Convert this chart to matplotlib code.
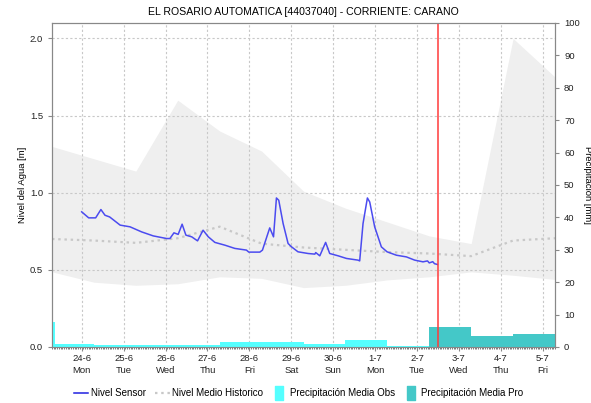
import matplotlib
matplotlib.use("Agg")
import matplotlib.pyplot as plt
import matplotlib.dates as mdates
import pandas as pd
from matplotlib.lines import Line2D

plt.rcParams['font.family'] = ['Liberation Sans', 'DejaVu Sans']

# sensor level [m]
sensor_time = ["2019-06-24 00:00", "2019-06-24 04:00", "2019-06-24 08:00", "2019-06-24 11:00",
               "2019-06-24 13:20", "2019-06-24 16:00", "2019-06-24 22:00", "2019-06-25 03:40",
               "2019-06-25 10:20", "2019-06-25 17:00", "2019-06-26 00:40", "2019-06-26 02:30",
               "2019-06-26 04:50", "2019-06-26 07:15", "2019-06-26 09:30", "2019-06-26 11:40",
               "2019-06-26 15:00", "2019-06-26 18:20", "2019-06-26 21:30", "2019-06-27 00:30",
               "2019-06-27 04:15", "2019-06-27 10:00", "2019-06-27 15:40", "2019-06-27 22:20",
               "2019-06-27 23:40", "2019-06-28 06:00", "2019-06-28 07:30", "2019-06-28 11:40",
               "2019-06-28 13:50", "2019-06-28 15:30", "2019-06-28 16:50", "2019-06-28 19:20",
               "2019-06-28 22:10", "2019-06-29 00:10", "2019-06-29 03:50", "2019-06-29 09:40",
               "2019-06-29 13:30", "2019-06-29 14:00", "2019-06-29 16:20", "2019-06-29 19:40",
               "2019-06-29 22:00", "2019-06-30 02:50", "2019-06-30 07:35", "2019-06-30 14:15",
               "2019-06-30 15:10", "2019-06-30 17:05", "2019-06-30 19:35", "2019-06-30 20:55",
               "2019-06-30 23:45", "2019-07-01 03:35", "2019-07-01 06:50", "2019-07-01 12:10",
               "2019-07-01 17:55", "2019-07-01 22:40", "2019-07-02 03:25", "2019-07-02 06:00",
               "2019-07-02 07:00", "2019-07-02 09:00", "2019-07-02 10:00", "2019-07-02 11:40"]
sensor_level = [0.876, 0.837, 0.837, 0.891,
                0.854, 0.843, 0.790, 0.779,
                0.746, 0.720, 0.703, 0.703,
                0.740, 0.730, 0.796, 0.725,
                0.714, 0.688, 0.757, 0.714,
                0.678, 0.660, 0.639, 0.628,
                0.615, 0.615, 0.628, 0.772,
                0.714, 0.966, 0.951, 0.800,
                0.671, 0.649, 0.617, 0.606,
                0.602, 0.612, 0.591, 0.678,
                0.606, 0.591, 0.574, 0.563,
                0.558, 0.800, 0.966, 0.940,
                0.779, 0.649, 0.617, 0.595,
                0.584, 0.563, 0.552, 0.558,
                0.545, 0.553, 0.540, 0.535]

# daily historic statistics (07:00)
hist_time = ["2019-06-23 07:00", "2019-06-24 07:00", "2019-06-25 07:00", "2019-06-26 07:00",
             "2019-06-27 07:00", "2019-06-28 07:00", "2019-06-29 07:00", "2019-06-30 07:00",
             "2019-07-01 07:00", "2019-07-02 07:00", "2019-07-03 07:00", "2019-07-04 07:00",
             "2019-07-05 07:00"]
hist_max = [1.30, 1.22, 1.14, 1.60, 1.40, 1.27, 1.01, 0.90, 0.81, 0.72, 0.67, 2.00, 1.75]
hist_min = [0.487, 0.42, 0.40, 0.41, 0.455, 0.445, 0.385, 0.40, 0.435, 0.455, 0.487, 0.465, 0.438]
hist_mean = [0.70, 0.69, 0.675, 0.705, 0.78, 0.67, 0.645, 0.63, 0.615, 0.606, 0.589, 0.69, 0.705]

# precipitation [mm], bars from start to end
obs_start = ["2019-06-23 06:00", "2019-06-23 08:30", "2019-06-24 07:00", "2019-06-25 07:00",
             "2019-06-26 07:00", "2019-06-27 07:00", "2019-06-28 07:00", "2019-06-29 07:00",
             "2019-06-30 07:00", "2019-07-01 07:00"]
obs_end = ["2019-06-23 08:30", "2019-06-24 07:00", "2019-06-25 07:00", "2019-06-26 07:00",
           "2019-06-27 07:00", "2019-06-28 07:00", "2019-06-29 07:00", "2019-06-30 07:00",
           "2019-07-01 07:00", "2019-07-02 07:00"]
obs_mm = [7.8, 1.0, 0.5, 0.5, 0.5, 1.4, 1.65, 1.0, 2.25, 0.45]

pro_start = ["2019-07-02 07:00", "2019-07-03 07:00", "2019-07-04 07:00"]
pro_end = ["2019-07-03 07:00", "2019-07-04 07:00", "2019-07-05 07:00"]
pro_mm = [6.1, 3.3, 4.1]

now = "2019-07-02 12:00"

st = mdates.date2num(pd.to_datetime(sensor_time))
ht = mdates.date2num(pd.to_datetime(hist_time))
os_ = mdates.date2num(pd.to_datetime(obs_start))
oe = mdates.date2num(pd.to_datetime(obs_end))
ps = mdates.date2num(pd.to_datetime(pro_start))
pe = mdates.date2num(pd.to_datetime(pro_end))

fig = plt.figure(figsize=(5.91, 4.03), dpi=100)
ax = fig.add_axes([52/591, 1-347/403, 503/591, 324/403])
ax2 = ax.twinx()

ax.fill_between(ht, hist_min, hist_max, color='#efefef', linewidth=0, zorder=1)
ax.plot(ht, hist_mean, color='#c8c8c8', linestyle=(0, (1.1, 1.7)), linewidth=1.6, zorder=2)
ax.plot(st, sensor_level, color='#4b4bf0', linewidth=1.1, zorder=3)

ax2.bar(os_, obs_mm, width=oe - os_, align='edge', color='#55ffff', linewidth=0)
ax2.bar(ps, pro_mm, width=pe - ps, align='edge', color='#44c8c8', linewidth=0)
ax2.axvline(mdates.date2num(pd.Timestamp(now)), color='#ff3b3b', linewidth=1.1)

xmin = mdates.date2num(pd.Timestamp("2019-06-23 07:00"))
xmax = mdates.date2num(pd.Timestamp("2019-07-05 07:00"))
ax.set_xlim(xmin, xmax)
ax.set_ylim(0, 2.1)
ax2.set_ylim(0, 100)

ax.set_yticks([0.0, 0.5, 1.0, 1.5, 2.0])
ax.set_yticklabels(['0.0', '0.5', '1.0', '1.5', '2.0'])
ax2.set_yticks(range(0, 101, 10))

days = pd.date_range("2019-06-24", "2019-07-05", freq="D")
ax.set_xticks(mdates.date2num(days))
ax.set_xticklabels([f"{d.day}-{d.month}\n{d.strftime('%a')}" for d in days])
ax.xaxis.set_minor_locator(mdates.HourLocator(interval=1))

ax.grid(True, which='major', color='#c8c8c8', linestyle=(0, (2, 2)), linewidth=0.8)

for a in (ax, ax2):
    for s in a.spines.values():
        s.set_color('#888888')
    a.tick_params(labelsize=6.8, colors='#888888', labelcolor='#222222', length=3, width=0.8)
ax.tick_params(axis='x', which='minor', length=1.5, colors='#666666')
ax.tick_params(axis='x', pad=2)
for lbl in ax.get_xticklabels():
    lbl.set_linespacing(1.45)

ax.set_ylabel("Nivel del Agua [m]", fontsize=6.8, labelpad=2)
ax2.set_ylabel("Precipitación [mm]", fontsize=6.8, rotation=270, labelpad=9)
ax.set_title("EL ROSARIO AUTOMATICA [44037040] - CORRIENTE: CARANO", fontsize=7.6, pad=6)

bar_marker = [(-0.3, -0.5), (0.3, -0.5), (0.3, 0.5), (-0.3, 0.5), (-0.3, -0.5)]
handles = [
    Line2D([], [], color='#2020e0', linewidth=1.1),
    Line2D([], [], color='#c8c8c8', linestyle=(0, (1.1, 1.7)), linewidth=1.6),
    Line2D([], [], linestyle='none', marker=bar_marker, markersize=10,
           markerfacecolor='#55ffff', markeredgecolor='#55ffff'),
    Line2D([], [], linestyle='none', marker=bar_marker, markersize=10,
           markerfacecolor='#44c8c8', markeredgecolor='#44c8c8'),
]
labels = ["Nivel Sensor", "Nivel Medio Historico", "Precipitación Media Obs", "Precipitación Media Pro"]
fig.legend(handles, labels, loc='center', bbox_to_anchor=(0.505, 1-393/403), ncol=4,
           frameon=False, fontsize=7, handlelength=1.5, handletextpad=0.3, columnspacing=0.9)

fig.savefig("out.png", dpi=100)
